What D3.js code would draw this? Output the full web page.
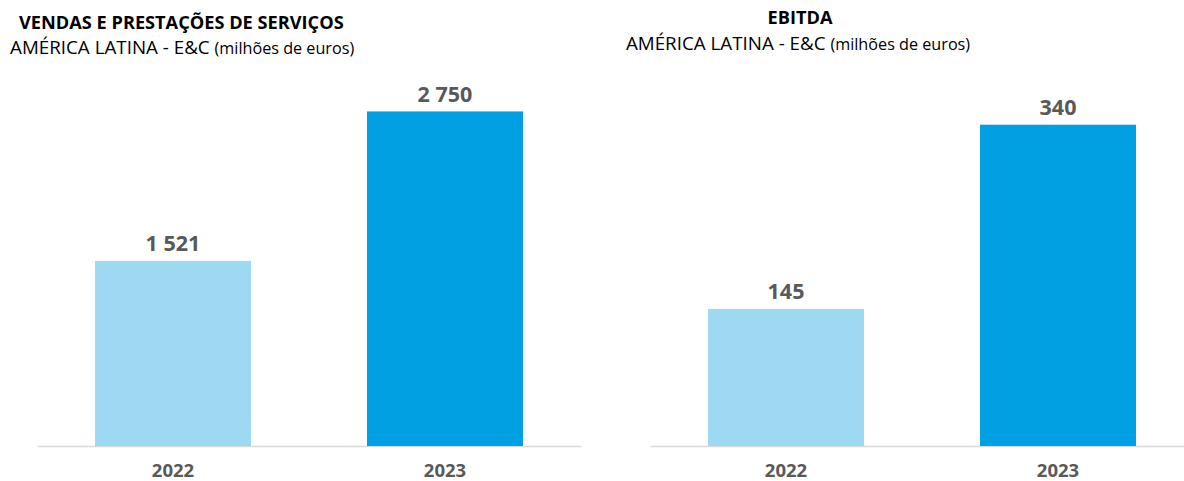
<!DOCTYPE html>
<html>
<head>
<meta charset="utf-8">
<script src="https://cdn.jsdelivr.net/npm/d3@7"></script>
<style>
  html, body { margin: 0; padding: 0; background: #fff; }
  svg { display: block; font-family: "Open Sans", "Liberation Sans", sans-serif; }
</style>
</head>
<body>
<svg id="chart" width="1184" height="481"></svg>
<script>
// Category labels shared by both panels
const years = ["2022", "2023"];

// Sales and services (million euros)
const salesValues = [1521, 2750];
const salesLabels = ["1 521", "2 750"];

// EBITDA (million euros)
const ebitdaValues = [145, 340];
const ebitdaLabels = ["145", "340"];

const barColors = ["#9DD9F3", "#00A0E3"];
const textGray = "#595959";

const svg = d3.select("#chart");
const baseline = 446;

function drawPanel(opts) {
  const g = svg.append("g");

  const x = d3.scaleBand()
    .domain(years)
    .range(opts.xRange)
    .paddingInner(0.4265)
    .paddingOuter(0.2132);

  const y = d3.scaleLinear()
    .domain(opts.yDomain)
    .range([baseline, opts.yTop]);

  // baseline axis with category labels
  const axis = d3.axisBottom(x).tickSize(0).tickPadding(0);
  const axisG = g.append("g")
    .attr("transform", `translate(0,${baseline})`)
    .call(axis);
  axisG.select(".domain")
    .attr("stroke", "#D9D9D9")
    .attr("stroke-width", 1.5);
  axisG.selectAll(".tick text")
    .attr("y", 31)
    .attr("dy", 0)
    .attr("fill", textGray)
    .attr("font-family", "\"Open Sans\", sans-serif")
    .attr("font-size", 18.5)
    .attr("font-weight", 700);

  // bars
  g.selectAll("rect.bar")
    .data(opts.values)
    .join("rect")
    .attr("class", "bar")
    .attr("x", (d, i) => x(years[i]))
    .attr("width", x.bandwidth())
    .attr("y", d => y(d))
    .attr("height", d => y(0) - y(d))
    .attr("fill", (d, i) => barColors[i]);

  // value labels
  g.selectAll("text.value")
    .data(opts.values)
    .join("text")
    .attr("class", "value")
    .attr("x", (d, i) => x(years[i]) + x.bandwidth() / 2)
    .attr("y", d => y(d) - 9.5)
    .attr("text-anchor", "middle")
    .attr("fill", textGray)
    .attr("font-size", 21.5)
    .attr("font-weight", 700)
    .text((d, i) => opts.labels[i]);

  // titles
  g.append("text")
    .attr("x", opts.titleX)
    .attr("y", opts.titleY)
    .attr("text-anchor", opts.anchor)
    .attr("fill", "#000")
    .attr("font-size", 18.2)
    .attr("font-weight", 700)
    .text(opts.title);

  const s = g.append("text")
    .attr("x", opts.subX)
    .attr("y", opts.subY)
    .attr("text-anchor", opts.anchor)
    .attr("fill", "#000");
  s.append("tspan").attr("font-size", 18.8).text("AMÉRICA LATINA - E&C ");
  s.append("tspan").attr("font-size", 16.2).text("(milhões de euros)");
}

drawPanel({
  xRange: [37, 581],
  yDomain: [0, 3000],
  yTop: 81,
  values: salesValues,
  labels: salesLabels,
  title: "VENDAS E PRESTAÇÕES DE SERVIÇOS",
  titleX: 19,
  subX: 10,
  titleY: 29,
  subY: 54,
  anchor: "start"
});

drawPanel({
  xRange: [650, 1194],
  yDomain: [0, 400],
  yTop: 68,
  values: ebitdaValues,
  labels: ebitdaLabels,
  title: "EBITDA",
  titleX: 800,
  subX: 798,
  titleY: 24,
  subY: 50,
  anchor: "middle"
});
</script>
</body>
</html>
